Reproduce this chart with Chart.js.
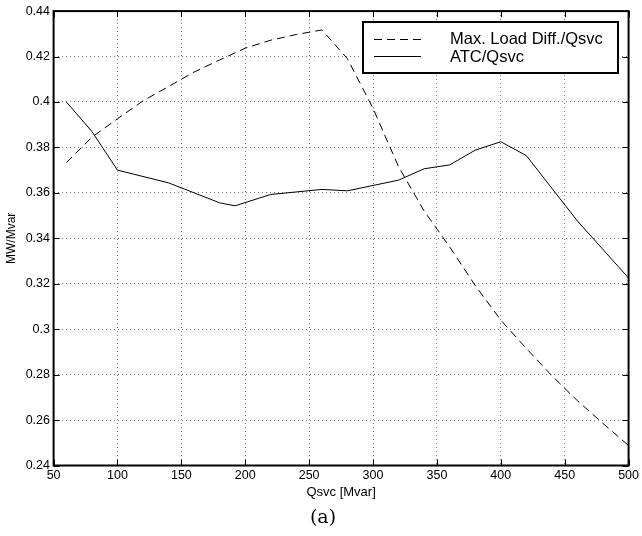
<!DOCTYPE html>
<html><head><meta charset="utf-8">
<script src="https://cdn.jsdelivr.net/npm/chart.js@4/dist/chart.umd.min.js"></script>
<style>html,body{margin:0;padding:0;background:#fff;}#wrap{width:642px;height:536px;position:relative;}</style>
</head><body><div id="wrap"><canvas id="c" width="642" height="536"></canvas></div>
<script>
// Series: Max. Load Diff./Qsvc (dashed)
const loadX = [60, 80, 100, 120, 140, 160, 180, 200, 220, 240, 260, 280, 300, 320, 340, 360, 380, 400, 420, 440, 460, 480, 500];
const loadY = [0.3733, 0.3845, 0.3926, 0.4005, 0.4068, 0.4132, 0.4185, 0.4237, 0.4272, 0.4297, 0.4317, 0.4190, 0.3972, 0.3715, 0.3520, 0.3362, 0.3192, 0.3040, 0.2915, 0.2795, 0.2685, 0.2585, 0.2488];
// Series: ATC/Qsvc (solid)
const atcX = [60, 80, 100, 140, 180, 192, 220, 260, 280, 320, 340, 360, 380, 400, 420, 460, 500];
const atcY = [0.400, 0.387, 0.370, 0.3644, 0.3556, 0.3543, 0.3593, 0.3615, 0.3609, 0.3656, 0.3706, 0.3723, 0.3788, 0.3825, 0.3764, 0.3476, 0.3225];
// Tick labels
const xTicks = [50, 100, 150, 200, 250, 300, 350, 400, 450, 500];
const yTicks = ['0.24', '0.26', '0.28', '0.3', '0.32', '0.34', '0.36', '0.38', '0.4', '0.42', '0.44'];
const seriesNames = ['Max. Load Diff./Qsvc', 'ATC/Qsvc'];
const xTitle = 'Qsvc [Mvar]';
const yTitle = 'MW/Mvar';
const caption = '(a)';

const FONT = 'Liberation Sans, Arial, Helvetica, sans-serif';

const framePlugin = {
  id: 'frame',
  afterDraw(chart) {
    const ctx = chart.ctx;
    const a = chart.chartArea;
    const xs = chart.scales.x, ys = chart.scales.y;
    ctx.save();
    // inward tick marks
    ctx.strokeStyle = '#000';
    ctx.lineWidth = 1;
    ctx.beginPath();
    xTicks.forEach(v => {
      const px = Math.round(xs.getPixelForValue(v)) + 0.5;
      ctx.moveTo(px, a.bottom); ctx.lineTo(px, a.bottom - 6);
      ctx.moveTo(px, a.top); ctx.lineTo(px, a.top + 6);
    });
    yTicks.forEach(t => {
      const py = Math.round(ys.getPixelForValue(parseFloat(t))) + 0.5;
      ctx.moveTo(a.left, py); ctx.lineTo(a.left + 6, py);
      ctx.moveTo(a.right, py); ctx.lineTo(a.right - 6, py);
    });
    ctx.stroke();
    // frame
    ctx.lineWidth = 2;
    ctx.strokeRect(a.left, a.top, a.right - a.left, a.bottom - a.top);

    // legend
    const bx = 363, by = 22, bw = 255, bh = 51;
    ctx.fillStyle = '#fff';
    ctx.fillRect(bx, by, bw, bh);
    ctx.lineWidth = 2;
    ctx.strokeRect(bx, by, bw, bh);
    ctx.lineWidth = 1;
    ctx.strokeStyle = '#000';
    ctx.setLineDash([8, 5]);
    ctx.beginPath(); ctx.moveTo(374, 39.5); ctx.lineTo(421, 39.5); ctx.stroke();
    ctx.setLineDash([]);
    ctx.beginPath(); ctx.moveTo(374, 56.5); ctx.lineTo(421, 56.5); ctx.stroke();
    ctx.fillStyle = '#000';
    ctx.font = '16.5px ' + FONT;
    ctx.textAlign = 'left';
    ctx.textBaseline = 'middle';
    ctx.fillText(seriesNames[0], 450, 39.5);
    ctx.fillText(seriesNames[1], 450, 57);

    // caption
    ctx.font = '19px "DejaVu Serif", serif';
    ctx.textAlign = 'center';
    ctx.fillText(caption, 323, 518);
    ctx.restore();
  }
};

const ctx = document.getElementById('c').getContext('2d');
new Chart(ctx, {
  type: 'line',
  data: {
    datasets: [
      {
        label: seriesNames[0],
        data: loadX.map((x, i) => ({x, y: loadY[i]})),
        borderColor: '#000', borderWidth: 1, borderDash: [8, 5],
        pointRadius: 0, tension: 0, fill: false
      },
      {
        label: seriesNames[1],
        data: atcX.map((x, i) => ({x, y: atcY[i]})),
        borderColor: '#000', borderWidth: 1,
        pointRadius: 0, tension: 0, fill: false
      }
    ]
  },
  options: {
    responsive: false,
    animation: false,
    devicePixelRatio: 1,
    layout: { padding: { top: 10.5, right: 9.3, left: 0, bottom: 0 } },
    plugins: { legend: { display: false }, tooltip: { enabled: false } },
    scales: {
      x: {
        type: 'linear', min: 50, max: 500,
        afterBuildTicks: s => { s.ticks = xTicks.map(v => ({value: v})); },
        afterFit: s => { s.height = 70.5; },
        ticks: { color: '#000', font: { family: FONT, size: 12.5 }, padding: 3, maxRotation: 0, callback: v => String(v) },
        grid: { color: '#777', lineWidth: 1, drawTicks: false },
        border: { display: false, dash: [1, 3] },
        title: { display: true, text: xTitle, color: '#000', font: { family: FONT, size: 13 }, padding: { top: 35.5, bottom: 35.5 } }
      },
      y: {
        type: 'linear', min: 0.24, max: 0.44,
        afterBuildTicks: s => { s.ticks = yTicks.map(t => ({value: parseFloat(t)})); },
        afterFit: s => { s.width = 53.6; },
        ticks: { color: '#000', font: { family: FONT, size: 12.5 }, padding: 3.6, callback: v => yTicks.find(t => Math.abs(parseFloat(t) - v) < 1e-9) },
        grid: { color: '#777', lineWidth: 1, drawTicks: false },
        border: { display: false, dash: [1, 3] },
        title: { display: true, text: yTitle, color: '#000', font: { family: FONT, size: 12 }, padding: { top: 4.5, bottom: 4.5 } }
      }
    }
  },
  plugins: [framePlugin]
});
</script></body></html>
